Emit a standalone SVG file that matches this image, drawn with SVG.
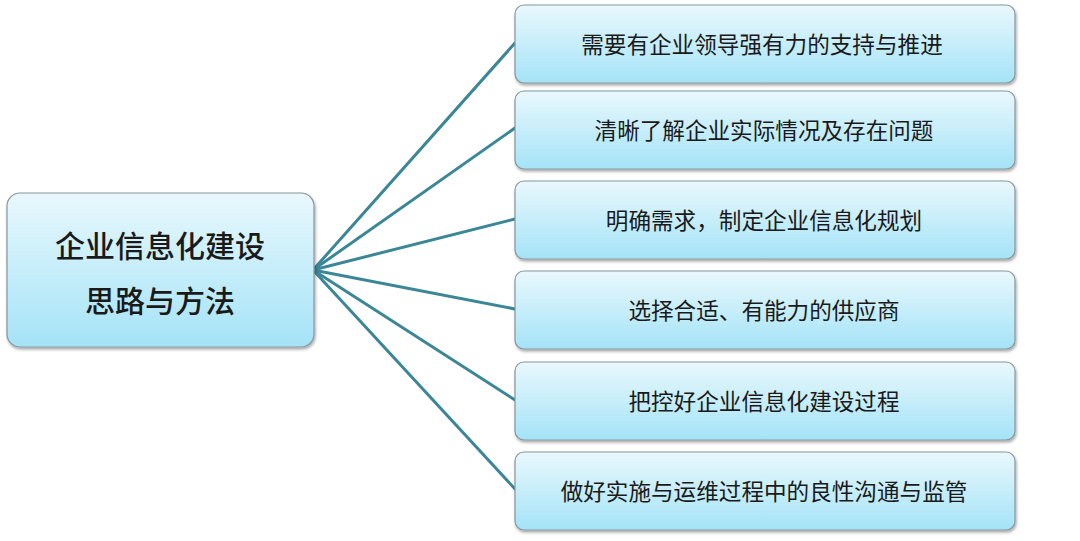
<svg xmlns="http://www.w3.org/2000/svg" width="1080" height="541" viewBox="0 0 1080 541">
<defs>
<linearGradient id="g" x1="0" y1="0" x2="0" y2="1">
<stop offset="0" stop-color="#e9f8fd"/>
<stop offset="1" stop-color="#a4e3f7"/>
</linearGradient>
<filter id="sh" x="-5%" y="-10%" width="115%" height="130%">
<feGaussianBlur in="SourceAlpha" stdDeviation="1.5"/>
<feOffset dx="1" dy="2" result="b"/>
<feComponentTransfer><feFuncA type="linear" slope="0.35"/></feComponentTransfer>
<feMerge><feMergeNode/><feMergeNode in="SourceGraphic"/></feMerge>
</filter>
</defs>
<style>
.box{fill:url(#g);stroke:#86979d;stroke-width:1.2;filter:url(#sh)}
.t{font-family:"Noto Sans CJK SC","Noto Sans",sans-serif;font-size:22.6px;fill:#1a1a1a;text-anchor:middle;dominant-baseline:central}
.m{font-size:30px;font-weight:500}
.c{stroke:#3b8797;stroke-width:3;fill:none;stroke-linecap:round}
</style>
<rect width="1080" height="541" fill="#ffffff"/>
<g id="connectors">
<line class="c" x1="313" y1="270" x2="515" y2="43"/>
<line class="c" x1="313" y1="270" x2="515" y2="128"/>
<line class="c" x1="313" y1="270" x2="515" y2="219"/>
<line class="c" x1="313" y1="270" x2="515" y2="309"/>
<line class="c" x1="313" y1="270" x2="515" y2="400"/>
<line class="c" x1="313" y1="270" x2="515" y2="489"/>
</g>
<g id="main">
<rect class="box" x="7" y="193" width="307" height="154" rx="13"/>
<text class="t m" x="160" y="244">企业信息化建设</text>
<text class="t m" x="160" y="299">思路与方法</text>
</g>
<g id="n1">
<rect class="box" x="515" y="5" width="500" height="78" rx="9"/>
<text class="t" x="762" y="43">需要有企业领导强有力的支持与推进</text>
</g>
<g id="n2">
<rect class="box" x="515" y="91" width="500" height="78" rx="9"/>
<text class="t" x="764" y="129">清晰了解企业实际情况及存在问题</text>
</g>
<g id="n3">
<rect class="box" x="515" y="181" width="500" height="78" rx="9"/>
<text class="t" x="764" y="219">明确需求，制定企业信息化规划</text>
</g>
<g id="n4">
<rect class="box" x="515" y="271" width="500" height="78" rx="9"/>
<text class="t" x="764" y="309">选择合适、有能力的供应商</text>
</g>
<g id="n5">
<rect class="box" x="515" y="362" width="500" height="78" rx="9"/>
<text class="t" x="764" y="400">把控好企业信息化建设过程</text>
</g>
<g id="n6">
<rect class="box" x="515" y="452" width="500" height="78" rx="9"/>
<text class="t" x="764" y="490">做好实施与运维过程中的良性沟通与监管</text>
</g>
</svg>
